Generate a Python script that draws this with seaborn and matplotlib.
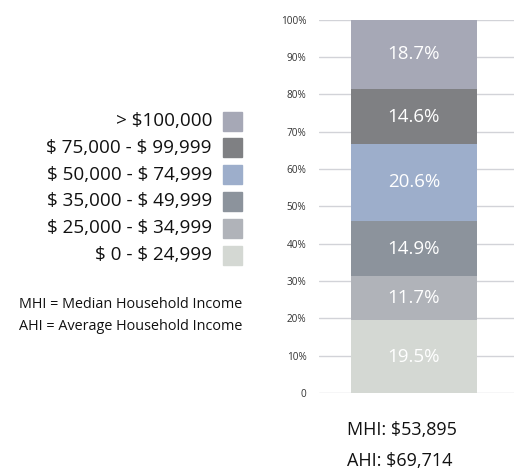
import matplotlib
matplotlib.use('Agg')
import matplotlib.pyplot as plt
import seaborn as sns
import pandas as pd
import numpy as np

# ==========================================
# Data (bottom to top)
# ==========================================
brackets = ['$ 0 - $ 24,999', '$ 25,000 - $ 34,999', '$ 35,000 - $ 49,999',
            '$ 50,000 - $ 74,999', '$ 75,000 - $ 99,999', '> $100,000']
shares = [19.5, 11.7, 14.9, 20.6, 14.6, 18.7]
colors = ['#d4d8d3', '#b0b3b9', '#8c939c', '#9daecb', '#7f8083', '#a6a8b6']
y_ticks = [0, 10, 20, 30, 40, 50, 60, 70, 80, 90, 100]
y_tick_labels = ['0'] + [f'{t}%' for t in y_ticks[1:]]
notes = ['MHI = Median Household Income', 'AHI = Average Household Income']
summary = ['MHI: $53,895', 'AHI: $69,714']

sns.set_style('white')
plt.rcParams['font.family'] = ['Open Sans', 'DejaVu Sans']

fig = plt.figure(figsize=(5.14, 4.70), dpi=100)
ax = fig.add_axes([0.6206, 0.1638, 0.3794, 0.7947])

# stacked bar: draw cumulative totals from the top down so each overlays
df = pd.DataFrame({'bracket': brackets, 'share': shares, 'color': colors})
df['top'] = df['share'].cumsum()
df['bottom'] = df['top'] - df['share']
for _, row in df.iloc[::-1].iterrows():
    sns.barplot(x=['all'], y=[row['top']], color=row['color'], width=0.646,
                saturation=1, linewidth=0, ax=ax, zorder=2)

ax.set_xlim(-0.487, 0.513)
ax.set_ylim(0, 100)
ax.set_yticks(y_ticks)
ax.set_yticklabels(y_tick_labels, fontsize=7.2, color='#333333')
ax.tick_params(axis='y', length=0, pad=9)
ax.set_xticks([])
ax.set_xlabel('')
ax.set_ylabel('')
ax.grid(axis='y', color='#d2d3d8', linewidth=1, zorder=0)
ax.set_axisbelow(True)
for s in ax.spines.values():
    s.set_visible(False)

for _, row in df.iterrows():
    ax.text(0, (row['top'] + row['bottom']) / 2, f"{row['share']:.1f}%",
            ha='center', va='center', color='white', fontsize=13.5, zorder=3)

# legend on the left, top item first
for i, (lab, col) in enumerate(zip(brackets[::-1], colors[::-1])):
    y = 1 - (121 + i * 26.8) / 470
    fig.text(212 / 514, y, lab, ha='right', va='center', fontsize=13.6,
             color='#111111', parse_math=False)
    fig.patches.append(plt.Rectangle((223 / 514, y - 9.5 / 470), 19 / 514, 19 / 470,
                                     transform=fig.transFigure, color=col))

for i, t in enumerate(notes):
    fig.text(242 / 514, 1 - (305 + i * 21) / 470, t, ha='right', va='center',
             fontsize=10.4, color='#111111', parse_math=False)

for i, t in enumerate(summary):
    fig.text(347 / 514, 1 - (430 + i * 31) / 470, t, ha='left', va='center',
             fontsize=13, color='#111111', parse_math=False)

plt.savefig('out.png', dpi=100)
plt.close()
